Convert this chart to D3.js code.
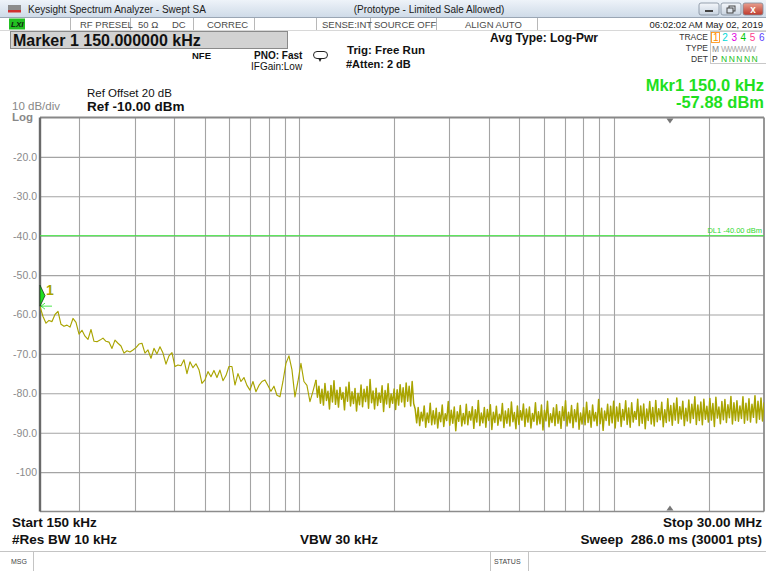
<!DOCTYPE html>
<html>
<head>
<meta charset="utf-8">
<script src="https://cdn.jsdelivr.net/npm/d3@7"></script>
<style>
  html, body { margin: 0; padding: 0; background: #ffffff; }
  svg { display: block; font-family: "Liberation Sans", Arial, sans-serif; }
  text { white-space: pre; }
</style>
</head>
<body>
<svg id="screen" width="766" height="571"></svg>
<script>
// ---- Sweep settings ----
const startMHz = 0.15;
const stopMHz = 30;
const centerMHz = 15.075;
const refLevelDbm = -10;
const bottomDbm = -110;
const displayLineDbm = -40;
const markerMHz = 0.15;
const markerDbm = -57.88;

// Vertical graticule (MHz) and horizontal graticule (dBm)
const gridFreqsMHz = [0.2, 0.3, 0.4, 0.5, 0.6, 0.7, 0.8, 0.9, 1, 2, 3, 4, 5, 6, 7, 8, 9, 10, 20];
const levelTicksDbm = [-20, -30, -40, -50, -60, -70, -80, -90, -100];
const levelTickLabels = ["-20.0", "-30.0", "-40.0", "-50.0", "-60.0", "-70.0", "-80.0", "-90.0", "-100"];

// Trace 1, low band: display columns from 150 kHz to 1.13 MHz (log spaced)
const lowBandStopMHz = 1.13;
const lowBandDbm = [
  -58.0, -60.5, -62.2, -61.5, -61.8, -60.0, -59.2, -62.5, -63.0, -62.7,
  -63.2, -61.0, -62.0, -65.0, -64.0, -65.5, -66.3, -63.8, -66.8, -66.9,
  -66.5, -66.0, -66.8, -67.0, -68.6, -66.5, -67.3, -68.0, -69.8, -69.2,
  -69.5, -69.0, -68.4, -67.5, -67.3, -69.8, -69.0, -71.1, -68.6, -70.0,
  -68.2, -69.8, -72.6, -70.5, -69.7, -73.2, -72.8, -73.0, -71.5, -75.0,
  -72.0, -73.5, -72.5, -74.0, -77.5, -76.6, -74.5, -75.8, -74.2, -76.0,
  -74.1, -76.8, -75.5, -73.2, -73.2, -77.9, -75.0, -77.0, -76.0, -78.0,
  -79.2, -77.0, -79.6, -78.0, -77.0, -76.6, -78.0, -79.5, -78.2, -80.5,
  -80.9, -77.0, -72.4, -70.5, -74.0, -80.9, -77.0, -72.4, -77.0, -78.0,
  -82.1, -79.5, -76.6
];

// Trace 1, high band: display columns from 1.13 MHz to 30 MHz (log spaced, peak detected)
const highBandDbm = [
  -76.6, -81.0, -78.2, -82.5, -79.0, -83.0, -77.5, -81.8, -79.5, -84.0, -78.0, -82.2, -76.8, -82.8, -79.2, -83.5, -78.5, -81.5, -79.8, -84.2,
  -78.4, -82.0, -77.2, -83.2, -79.6, -82.6, -78.8, -84.5, -80.0, -82.9, -77.9, -83.4, -79.0, -82.1, -78.3, -83.8, -76.5, -82.4, -79.4, -84.0,
  -78.7, -83.1, -79.9, -82.3, -78.1, -84.6, -79.3, -82.7, -77.6, -83.6, -80.2, -82.5, -78.9, -84.1, -79.1, -83.0, -77.8, -82.2, -78.6, -83.4,
  -77.4, -82.0, -78.2, -83.2, -77.0, -82.6, -84.0, -87.5, -83.6, -88.2, -84.8, -87.0, -83.2, -88.6, -85.0, -87.4, -82.5, -88.0, -84.4, -87.8,
  -83.8, -88.8, -84.9, -87.2, -83.0, -88.4, -85.2, -86.9, -82.1, -88.1, -84.3, -87.6, -83.5, -89.5, -84.7, -87.1, -83.1, -88.3, -85.1, -87.7,
  -82.8, -88.0, -84.6, -86.8, -83.4, -88.9, -84.2, -87.3, -81.8, -88.2, -85.0, -87.5, -83.6, -88.6, -84.1, -86.9, -82.9, -89.2, -84.8, -87.4,
  -83.3, -88.1, -85.3, -87.0, -82.6, -88.7, -84.5, -87.6, -83.9, -88.3, -82.2, -87.2, -84.9, -89.0, -83.2, -87.9, -84.4, -86.8, -82.7, -88.4,
  -84.0, -87.3, -83.5, -88.8, -85.1, -87.1, -82.4, -88.0, -84.7, -87.7, -83.0, -89.3, -84.3, -87.0, -82.0, -88.5, -85.2, -87.4, -83.7, -88.2,
  -82.9, -87.6, -84.6, -88.9, -83.4, -86.9, -81.9, -88.3, -84.8, -87.5, -83.1, -88.7, -84.2, -87.2, -82.5, -89.1, -85.0, -87.8, -83.6, -88.0,
  -82.3, -87.4, -84.4, -88.6, -83.0, -87.0, -84.9, -88.2, -81.6, -87.7, -83.8, -89.4, -84.5, -86.9, -82.8, -88.1, -83.3, -87.5, -82.0, -88.8,
  -83.5, -87.1, -82.6, -88.4, -84.1, -86.8, -81.9, -87.9, -83.7, -88.6, -82.4, -87.3, -84.6, -86.6, -81.5, -88.2, -83.2, -87.6, -82.7, -89.0,
  -84.0, -86.9, -82.1, -87.8, -83.6, -88.3, -81.8, -87.2, -83.9, -86.7, -82.3, -88.5, -84.2, -87.4, -81.4, -87.0, -83.1, -88.1, -82.5, -86.8,
  -81.2, -87.6, -83.4, -86.5, -82.0, -88.2, -83.8, -87.0, -81.7, -87.5, -82.8, -86.4, -80.9, -87.9, -83.0, -86.9, -82.2, -88.0, -81.5, -86.6,
  -83.3, -87.3, -81.3, -86.8, -82.6, -88.4, -81.0, -86.3, -83.5, -87.7, -82.1, -86.7, -81.6, -87.4, -82.9, -86.2, -80.8, -87.8, -82.4, -86.9,
  -81.9, -87.1, -83.2, -86.4, -80.9, -87.6, -82.5, -86.8, -81.4, -87.3, -82.8, -86.1, -80.6, -87.5, -82.0, -86.6, -81.2, -87.0, -82.3
];

// Status text
const statusCells = [
  { text: "RF PRESEL", x: 80 }, { text: "50 Ω", x: 138 }, { text: "DC", x: 172 },
  { text: "CORREC", x: 207 }, { text: "SENSE:INT", x: 322 }, { text: "SOURCE OFF", x: 374 },
  { text: "ALIGN AUTO", x: 465 }
];
const statusDividers = [70, 130, 193, 254, 316, 370, 436, 537];
const traceNumbers = ["1", "2", "3", "4", "5", "6"];
const traceColors = ["#ff8c00", "#00d8d8", "#e000e0", "#00c800", "#ff3c8c", "#5a3cff"];

// ---- Drawing ----
const svg = d3.select("#screen");
const plot = { left: 40, right: 764, top: 117.5, bottom: 511.5 };

const x = d3.scaleLog().domain([startMHz, stopMHz]).range([plot.left, plot.right]);
const y = d3.scaleLinear().domain([bottomDbm, refLevelDbm]).range([plot.bottom, plot.top]);

// Title bar
const defs = svg.append("defs");
const tg = defs.append("linearGradient").attr("id", "titleGrad").attr("x1", 0).attr("x2", 0).attr("y1", 0).attr("y2", 1);
tg.append("stop").attr("offset", "0%").attr("stop-color", "#eef3f9");
tg.append("stop").attr("offset", "100%").attr("stop-color", "#cfdbe8");
const bg = defs.append("linearGradient").attr("id", "btnGrad").attr("x1", 0).attr("x2", 0).attr("y1", 0).attr("y2", 1);
bg.append("stop").attr("offset", "0%").attr("stop-color", "#f4f7fb");
bg.append("stop").attr("offset", "100%").attr("stop-color", "#c8d3e0");
const cg = defs.append("linearGradient").attr("id", "closeGrad").attr("x1", 0).attr("x2", 0).attr("y1", 0).attr("y2", 1);
cg.append("stop").attr("offset", "0%").attr("stop-color", "#e8a090");
cg.append("stop").attr("offset", "100%").attr("stop-color", "#c0392b");

svg.append("rect").attr("x", 0).attr("y", 0).attr("width", 766).attr("height", 17).attr("fill", "url(#titleGrad)");
svg.append("line").attr("x1", 0).attr("x2", 766).attr("y1", 17.5).attr("y2", 17.5).attr("stroke", "#9aa6b4");
// window icon
svg.append("rect").attr("x", 8).attr("y", 5).attr("width", 13).attr("height", 7).attr("fill", "#8c8c8c");
svg.append("rect").attr("x", 8).attr("y", 10).attr("width", 13).attr("height", 2.5).attr("fill", "#d03030");
svg.append("text").attr("x", 28).attr("y", 12.5).attr("font-size", 10).attr("fill", "#1a1a1a")
  .text("Keysight Spectrum Analyzer - Swept SA");
svg.append("text").attr("x", 429).attr("y", 12.5).attr("font-size", 10).attr("fill", "#1a1a1a")
  .attr("text-anchor", "middle").text("(Prototype - Limited Sale Allowed)");
[[699, "url(#btnGrad)"], [721, "url(#btnGrad)"], [743, "url(#closeGrad)"]].forEach(([bx, fill]) => {
  svg.append("rect").attr("x", bx).attr("y", 3).attr("width", 20).attr("height", 12).attr("rx", 2)
    .attr("fill", fill).attr("stroke", "#7f8b99").attr("stroke-width", 0.8);
});
svg.append("rect").attr("x", 705).attr("y", 10).attr("width", 8).attr("height", 2).attr("fill", "#444");
svg.append("rect").attr("x", 729).attr("y", 6).attr("width", 6).attr("height", 5).attr("fill", "none").attr("stroke", "#444");
svg.append("rect").attr("x", 727).attr("y", 8).attr("width", 6).attr("height", 5).attr("fill", "#dfe6ee").attr("stroke", "#444");
svg.append("text").attr("x", 753).attr("y", 13).attr("font-size", 10).attr("font-weight", "bold")
  .attr("fill", "#ffffff").attr("text-anchor", "middle").text("x");

// Status row
svg.append("rect").attr("x", 9).attr("y", 18.5).attr("width", 16).attr("height", 11).attr("fill", "#22c022");
svg.append("text").attr("x", 11).attr("y", 27).attr("font-size", 8).attr("font-weight", "bold")
  .attr("font-style", "italic").attr("fill", "#102010").text("LXI");
statusDividers.forEach(dx => {
  svg.append("line").attr("x1", dx + 0.5).attr("x2", dx + 0.5).attr("y1", 18).attr("y2", 30).attr("stroke", "#b8b8b8");
});
svg.append("line").attr("x1", 0).attr("x2", 766).attr("y1", 30.5).attr("y2", 30.5).attr("stroke", "#d8d8d8");
statusCells.forEach(c => {
  svg.append("text").attr("x", c.x).attr("y", 27.5).attr("font-size", 9.5).attr("fill", "#4a4a4a").text(c.text);
});
svg.append("text").attr("x", 763).attr("y", 27.5).attr("font-size", 9.5).attr("fill", "#1a1a1a")
  .attr("text-anchor", "end").text("06:02:02 AM May 02, 2019");

// Marker readout box
svg.append("rect").attr("x", 10.5).attr("y", 31.5).attr("width", 277).attr("height", 17).attr("fill", "#d2d2d2")
  .attr("stroke", "#8a8a8a");
svg.append("text").attr("x", 13).attr("y", 46).attr("font-size", 16).attr("font-weight", "bold").attr("fill", "#111")
  .text("Marker 1 150.000000 kHz");

// Settings text
const boldText = (tx, ty, size, str, anchor) => svg.append("text").attr("x", tx).attr("y", ty)
  .attr("font-size", size).attr("font-weight", "bold").attr("fill", "#111").attr("text-anchor", anchor || "start").text(str);
boldText(490, 42, 12, "Avg Type: Log-Pwr");
boldText(192, 59, 9.5, "NFE");
boldText(254, 59, 10, "PNO: Fast");
svg.append("text").attr("x", 251).attr("y", 70).attr("font-size", 10).attr("fill", "#111").text("IFGain:Low");
boldText(347, 54, 11.5, "Trig: Free Run");
boldText(346, 68, 11, "#Atten: 2 dB");
// trigger icon
svg.append("rect").attr("x", 313.5).attr("y", 51.5).attr("width", 14).attr("height", 7).attr("rx", 3.5)
  .attr("fill", "none").attr("stroke", "#222");
svg.append("path").attr("d", "M318,58 L322,58 L320,62 Z").attr("fill", "#222");

// Trace status block
svg.append("text").attr("x", 708).attr("y", 40).attr("font-size", 8.5).attr("fill", "#333").attr("text-anchor", "end").text("TRACE");
svg.append("text").attr("x", 708).attr("y", 51).attr("font-size", 8.5).attr("fill", "#333").attr("text-anchor", "end").text("TYPE");
svg.append("text").attr("x", 708).attr("y", 62).attr("font-size", 8.5).attr("fill", "#333").attr("text-anchor", "end").text("DET");
svg.append("rect").attr("x", 710.5).attr("y", 31.5).attr("width", 56).attr("height", 32).attr("fill", "none").attr("stroke", "#c8c8c8");
svg.append("rect").attr("x", 711.5).attr("y", 32.5).attr("width", 8).attr("height", 10).attr("fill", "none").attr("stroke", "#ff8c00").attr("stroke-width", 0.8);
traceNumbers.forEach((t, i) => {
  svg.append("text").attr("x", 713 + i * 9.2).attr("y", 41).attr("font-size", 10).attr("fill", traceColors[i]).text(t);
});
svg.append("text").attr("x", 712).attr("y", 51.5).attr("font-size", 8.5).attr("fill", "#888").text("M");
svg.append("text").attr("x", 721).attr("y", 51.5).attr("font-size", 8.5).attr("fill", "#aaa").attr("letter-spacing", -1.2).text("WWWWW");
svg.append("text").attr("x", 712).attr("y", 62).attr("font-size", 8.5).attr("fill", "#333").text("P");
svg.append("text").attr("x", 721).attr("y", 62).attr("font-size", 8.5).attr("fill", "#22c022").attr("letter-spacing", 1.5).text("NNNNN");

// Reference settings
svg.append("text").attr("x", 87).attr("y", 96.5).attr("font-size", 11.5).attr("fill", "#111").text("Ref Offset 20 dB");
boldText(87, 111, 13.5, "Ref -10.00 dBm");
svg.append("text").attr("x", 12).attr("y", 110).attr("font-size", 11.5).attr("fill", "#888").text("10 dB/div");
svg.append("text").attr("x", 12).attr("y", 120.5).attr("font-size", 11.5).attr("font-weight", "bold").attr("fill", "#888").text("Log");

// Marker readout (green)
svg.append("text").attr("x", 764).attr("y", 91).attr("font-size", 16.5).attr("font-weight", "bold").attr("fill", "#1ee01e")
  .attr("text-anchor", "end").text("Mkr1 150.0 kHz");
svg.append("text").attr("x", 764).attr("y", 108).attr("font-size", 16.5).attr("font-weight", "bold").attr("fill", "#1ee01e")
  .attr("text-anchor", "end").text("-57.88 dBm");

// Graticule
const grid = svg.append("g");
grid.selectAll("line.v").data(gridFreqsMHz).join("line").attr("class", "v")
  .attr("x1", d => Math.round(x(d)) + 0.5).attr("x2", d => Math.round(x(d)) + 0.5)
  .attr("y1", plot.top).attr("y2", plot.bottom).attr("stroke", "#a4a4a4").attr("stroke-width", 1.1);

const yAxis = d3.axisLeft(y).tickValues(levelTicksDbm)
  .tickFormat((d, i) => levelTickLabels[i]).tickSize(-(plot.right - plot.left)).tickPadding(3);
const yg = svg.append("g").attr("transform", `translate(${plot.left},0)`).call(yAxis);
yg.select(".domain").remove();
yg.selectAll(".tick line").attr("stroke", "#a4a4a4").attr("stroke-width", 1.1);
yg.selectAll(".tick text").attr("fill", "#8a8a8a").attr("font-size", 10.5)
  .attr("font-family", "'Liberation Sans', Arial, sans-serif");

// Frame
svg.append("line").attr("x1", plot.left).attr("x2", plot.right).attr("y1", plot.top).attr("y2", plot.top)
  .attr("stroke", "#888").attr("stroke-width", 2);
svg.append("line").attr("x1", plot.left).attr("x2", plot.right).attr("y1", plot.bottom).attr("y2", plot.bottom)
  .attr("stroke", "#8c8c8c").attr("stroke-width", 1.5);
svg.append("line").attr("x1", plot.right).attr("x2", plot.right).attr("y1", plot.top).attr("y2", plot.bottom)
  .attr("stroke", "#8c8c8c").attr("stroke-width", 1.8);
svg.append("line").attr("x1", plot.left).attr("x2", plot.left).attr("y1", plot.top).attr("y2", plot.bottom)
  .attr("stroke", "#6a6a6a").attr("stroke-width", 2.4);

// Display line
svg.append("line").attr("x1", plot.left).attr("x2", plot.right).attr("y1", y(displayLineDbm)).attr("y2", y(displayLineDbm))
  .attr("stroke", "#3ee63e").attr("stroke-width", 1);
svg.append("text").attr("x", 762).attr("y", y(displayLineDbm) - 2.5).attr("font-size", 7.5).attr("fill", "#2ed82e")
  .attr("text-anchor", "end").text("DL1 -40.00 dBm");

// Center frequency indicators
const cx = x(centerMHz);
svg.append("path").attr("d", `M${cx - 3.5},${plot.top + 1} L${cx + 3.5},${plot.top + 1} L${cx},${plot.top + 6} Z`).attr("fill", "#777");
svg.append("path").attr("d", `M${cx - 3.5},${plot.bottom - 1} L${cx + 3.5},${plot.bottom - 1} L${cx},${plot.bottom - 6} Z`).attr("fill", "#777");

// Trace 1
const logSpaced = (f0, f1, n, i) => f0 * Math.pow(f1 / f0, i / (n - 1));
const lowPts = lowBandDbm.map((v, i) => [logSpaced(startMHz, lowBandStopMHz, lowBandDbm.length, i), v]);
const highPts = highBandDbm.map((v, i) => [logSpaced(lowBandStopMHz, stopMHz, highBandDbm.length, i), v]);
const line = d3.line().x(d => x(d[0])).y(d => y(d[1]));
svg.append("defs").append("clipPath").attr("id", "plotClip").append("rect")
  .attr("x", plot.left).attr("y", plot.top).attr("width", plot.right - plot.left).attr("height", plot.bottom - plot.top);
const traceG = svg.append("g").attr("clip-path", "url(#plotClip)");
traceG.append("path").datum(lowPts).attr("d", line).attr("fill", "none")
  .attr("stroke", "#a9a400").attr("stroke-width", 1.15).attr("stroke-linejoin", "round");
traceG.append("path").datum(highPts).attr("d", line).attr("fill", "none")
  .attr("stroke", "#a9a400").attr("stroke-width", 1.5).attr("stroke-linejoin", "round");

// Marker 1
const mx = x(markerMHz), my = y(markerDbm);
svg.append("path").attr("d", `M${mx},${my - 21} L${mx + 5},${my - 10.5} L${mx},${my} Z`)
  .attr("fill", "#1ee01e").attr("stroke", "#1a3a1a").attr("stroke-width", 0.8);
svg.append("path").attr("d", `M${mx + 1},${my} L${mx + 12},${my} M${mx + 1},${my} L${mx + 5},${my - 3} M${mx + 1},${my} L${mx + 5},${my + 3}`)
  .attr("stroke", "#1ee01e").attr("stroke-width", 0.8).attr("fill", "none");
svg.append("text").attr("x", mx + 6).attr("y", my - 11).attr("font-size", 14).attr("font-weight", "bold")
  .attr("fill", "#a9a400").text("1");

// Sweep summary
boldText(12, 527, 13.5, "Start 150 kHz");
boldText(12, 544, 13.5, "#Res BW 10 kHz");
boldText(300, 544, 13.5, "VBW 30 kHz");
boldText(762, 527, 13.5, "Stop 30.00 MHz", "end");
boldText(762, 544, 13.5, "Sweep  286.0 ms (30001 pts)", "end");

// Message / status bar
svg.append("line").attr("x1", 0).attr("x2", 766).attr("y1", 551.5).attr("y2", 551.5).attr("stroke", "#c4c4c4");
svg.append("line").attr("x1", 33.5).attr("x2", 33.5).attr("y1", 552).attr("y2", 571).attr("stroke", "#c4c4c4");
svg.append("line").attr("x1", 490.5).attr("x2", 490.5).attr("y1", 552).attr("y2", 571).attr("stroke", "#c4c4c4");
svg.append("line").attr("x1", 528.5).attr("x2", 528.5).attr("y1", 552).attr("y2", 571).attr("stroke", "#c4c4c4");
svg.append("text").attr("x", 11).attr("y", 564).attr("font-size", 7).attr("fill", "#444").text("MSG");
svg.append("text").attr("x", 494).attr("y", 564).attr("font-size", 7).attr("fill", "#444").text("STATUS");
</script>
</body>
</html>
